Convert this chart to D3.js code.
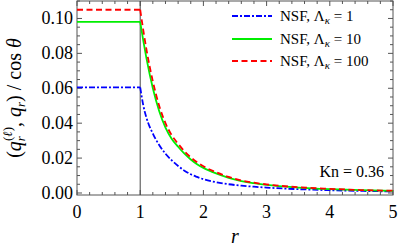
<!DOCTYPE html>
<html><head><meta charset="utf-8">
<script src="https://cdn.jsdelivr.net/npm/d3@7"></script>
<style>
@font-face { font-family: "ChartSerif"; src: local("Liberation Serif"), local("LiberationSerif"), local("Times New Roman"); font-style: normal; }
@font-face { font-family: "ChartSerif"; src: local("Liberation Serif Italic"), local("LiberationSerif-Italic"); font-style: italic; }
</style>
</head><body style="margin:0">
<svg id="c" width="399" height="252"></svg>
<script>
const rVals   = [0, 1, 1.05, 1.1, 1.2, 1.3, 1.4, 1.5, 1.6, 1.7, 1.8, 1.9, 2.0, 2.2, 2.4, 2.6, 2.8, 3.0, 3.5, 4, 4.5, 5];
const blue1   = [0.0605, 0.0605, 0.050, 0.043, 0.034, 0.0275, 0.0225, 0.0187, 0.0155, 0.0128, 0.0107, 0.0092, 0.0079, 0.0062, 0.0050, 0.0042, 0.0036, 0.0031, 0.0022, 0.0016, 0.0012, 0.0009];
const green10 = [0.098, 0.098, 0.087, 0.077, 0.060, 0.047, 0.0375, 0.031, 0.0265, 0.0225, 0.0192, 0.0165, 0.0144, 0.0112, 0.0087, 0.0068, 0.0056, 0.0046, 0.0031, 0.0022, 0.0016, 0.0012];
const red100  = [0.105, 0.105, 0.093, 0.082, 0.064, 0.050, 0.040, 0.033, 0.0282, 0.0239, 0.0204, 0.0176, 0.0153, 0.0119, 0.0092, 0.0072, 0.0059, 0.0049, 0.0033, 0.0024, 0.0017, 0.0013];
const xTicks = [0, 1, 2, 3, 4, 5];
const yTicks = [0, 0.02, 0.04, 0.06, 0.08, 0.10];
const legendLabels = ["1", "10", "100"];

const FONT = "'Liberation Serif'";
const svg = d3.select("#c").attr("font-family", "Liberation Serif");
const L = 77, R = 393, T = 1, B = 195;
const x = d3.scaleLinear().domain([0, 5]).range([L, R]);
const y = d3.scaleLinear().domain([-0.00115, 0.110]).range([B, T]);
const frameCol = "#555";

function txt(parent, px, py, size, content) {
  return parent.append("text").style("font-family", FONT).attr("x", px).attr("y", py).attr("font-size", size).text(content);
}

svg.append("rect").attr("x", L).attr("y", T).attr("width", R - L).attr("height", B - T)
  .attr("fill", "none").attr("stroke", frameCol).attr("stroke-width", 1);

const xMinor = d3.range(0, 5.0001, 0.2);
const yMinor = d3.range(0, 0.1101, 0.005);
const tg = svg.append("g").attr("stroke", frameCol).attr("stroke-width", 1);
xMinor.forEach(v => {
  const major = Math.abs(v - Math.round(v)) < 1e-6;
  const len = major ? 5 : 3;
  tg.append("line").attr("x1", x(v)).attr("x2", x(v)).attr("y1", B).attr("y2", B - len);
  tg.append("line").attr("x1", x(v)).attr("x2", x(v)).attr("y1", T).attr("y2", T + len);
});
yMinor.forEach(v => {
  const major = Math.abs(v / 0.02 - Math.round(v / 0.02)) < 1e-6;
  const len = major ? 5 : 3;
  tg.append("line").attr("y1", y(v)).attr("y2", y(v)).attr("x1", L).attr("x2", L + len);
  tg.append("line").attr("y1", y(v)).attr("y2", y(v)).attr("x1", R).attr("x2", R - len);
});

xTicks.forEach(d => txt(svg, x(d), 218, 18, String(d)).attr("text-anchor", "middle"));
yTicks.forEach(d => txt(svg, 73, y(d) + 6, 18, d.toFixed(2)).attr("text-anchor", "end"));

svg.append("line").attr("x1", x(1)).attr("x2", x(1)).attr("y1", T).attr("y2", B)
  .attr("stroke", "#444").attr("stroke-width", 1);

const series = [
  {vals: blue1, color: "#0000ff", dash: "6,2,2,2"},
  {vals: green10, color: "#00ee00", dash: null},
  {vals: red100, color: "#ff0000", dash: "6,3.5"}
];
svg.append("clipPath").attr("id", "clp").append("rect")
  .attr("x", L).attr("y", T).attr("width", R - L).attr("height", B - T);
const sg = svg.append("g").attr("clip-path", "url(#clp)");
series.forEach(s => {
  const pts = rVals.map((r, i) => [r, s.vals[i]]);
  const flat = pts.slice(0, 2), decay = pts.slice(1);
  [flat, decay].forEach(p => {
    sg.append("path").attr("d", d3.line().x(d => x(d[0])).y(d => y(d[1])).curve(p.length > 2 ? d3.curveMonotoneX : d3.curveLinear)(p))
      .attr("fill", "none").attr("stroke", s.color).attr("stroke-width", 1.8)
      .attr("stroke-dasharray", s.dash);
  });
});

const rowsY = [16, 39, 61];
series.forEach((s, i) => {
  svg.append("line").attr("x1", 232).attr("x2", 272).attr("y1", rowsY[i]).attr("y2", rowsY[i])
    .attr("stroke", s.color).attr("stroke-width", 1.8).attr("stroke-dasharray", s.dash);
  const t = txt(svg, 280, rowsY[i] + 5, 15, null);
  t.append("tspan").text("NSF, Λ");
  t.append("tspan").attr("font-style", "italic").attr("font-size", 11).attr("dy", 3).text("κ");
  t.append("tspan").attr("dy", -3).text(" = " + legendLabels[i]);
});

txt(svg, 384, 177, 16, "Kn = 0.36").attr("text-anchor", "end");
txt(svg, 235, 243, 20, "r").attr("text-anchor", "middle").attr("font-style", "italic");

const yl = txt(svg, 0, 0, 20, null).attr("transform", "translate(21,98) rotate(-90)").attr("text-anchor", "middle");
yl.append("tspan").text("(");
yl.append("tspan").attr("font-style", "italic").text("q");
yl.append("tspan").attr("font-style", "italic").attr("font-size", 13).attr("dy", 4).text("r");
yl.append("tspan").attr("font-size", 13).attr("dy", -13).attr("dx", -5).text("(");
yl.append("tspan").attr("font-style", "italic").attr("font-size", 13).text("ℓ");
yl.append("tspan").attr("font-size", 13).text(")");
yl.append("tspan").attr("dy", 9).text(", ");
yl.append("tspan").attr("font-style", "italic").text("q");
yl.append("tspan").attr("font-style", "italic").attr("font-size", 13).attr("dy", 4).text("r");
yl.append("tspan").attr("dy", -4).text(") / cos ");
yl.append("tspan").attr("font-style", "italic").text("θ");
</script></body></html>
